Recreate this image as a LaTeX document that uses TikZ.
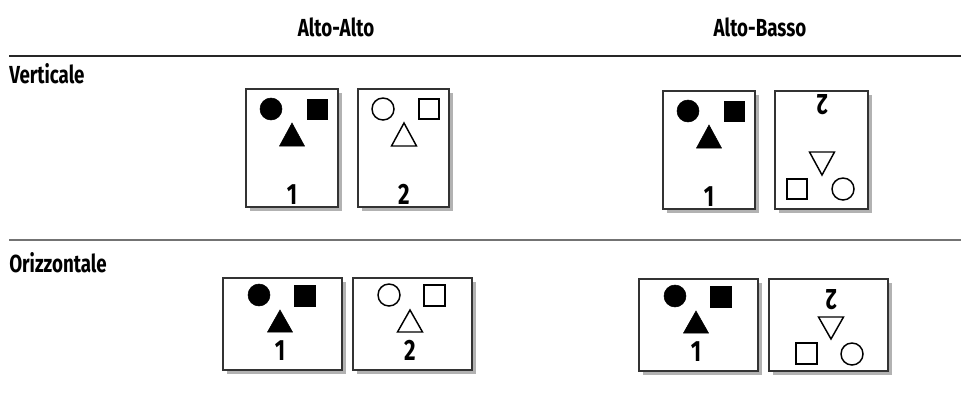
\documentclass[tikz,border=0pt]{standalone}
\usepackage{fontspec}
\setmainfont{Fira Sans}[FakeStretch=0.76]
\newcommand\vshapes[3]{%
  \draw[#1] (25,20) circle (11);
  \draw[#1] (61,10) rectangle (81,30);
  \draw[#1] (46,34) -- (58.5,57) -- (33.5,57) -- cycle;
  \node[digit] (#3) at (46,115) {#2};
}
\newcommand\hshapes[3]{%
  \draw[#1] (36,17) circle (11);
  \draw[#1] (71,7) rectangle (92,28);
  \draw[#1] (57,32) -- (69.5,54) -- (44.5,54) -- cycle;
  \node[digit] (#3) at (57,82) {#2};
}
\begin{document}
\begin{tikzpicture}[x=0.75pt,y=-0.75pt,
  pagebox/.style={draw=black!80,line width=0.9pt,fill=white},
  pageshadow/.style={fill=black!30},
  solidshape/.style={fill=black},
  openshape/.style={draw=black,line width=1.1pt,fill=white},
  digit/.style={font=\fontsize{22}{24}\selectfont\bfseries,inner sep=0pt,anchor=base,transform shape},
  rowlabel/.style={font=\fontsize{18.5}{20}\selectfont\bfseries,inner sep=0pt,anchor=base west},
  colhead/.style={font=\fontsize{18.5}{20}\selectfont\bfseries,inner sep=0pt,anchor=base}]
\useasboundingbox (0,0) rectangle (961,397);

% headers
\node[colhead] (hAA) at (336,36) {Alto-Alto};
\node[colhead] (hAB) at (760,36) {Alto-Basso};
\draw[line width=2.2pt,black!85] (9,56) -- (961,56);
\node[rowlabel] (rV) at (9,83) {Verticale};
\draw[line width=1.3pt,black!55] (9,240) -- (961,240);
\node[rowlabel] (rO) at (9,272) {Orizzontale};

% Verticale, Alto-Alto
\begin{scope}[shift={(246,89)}]
  \fill[pageshadow] (4,4) rectangle (96,122);
  \draw[pagebox] (0,0) rectangle (92,118);
  \vshapes{solidshape}{1}{vaa1}
\end{scope}
\begin{scope}[shift={(358,89)}]
  \fill[pageshadow] (4,4) rectangle (95,122);
  \draw[pagebox] (0,0) rectangle (91,118);
  \vshapes{openshape}{2}{vaa2}
\end{scope}

% Verticale, Alto-Basso
\begin{scope}[shift={(663,91)}]
  \fill[pageshadow] (4,4) rectangle (96,122);
  \draw[pagebox] (0,0) rectangle (92,118);
  \vshapes{solidshape}{1}{vab1}
\end{scope}
\begin{scope}[shift={(775,91)}]
  \fill[pageshadow] (4,4) rectangle (97,122);
  \draw[pagebox] (0,0) rectangle (93,118);
  \begin{scope}[rotate around={180:(46.5,59)}]
    \vshapes{openshape}{2}{vab2}
  \end{scope}
\end{scope}

% Orizzontale, Alto-Alto
\begin{scope}[shift={(223,278)}]
  \fill[pageshadow] (4,4) rectangle (123,96);
  \draw[pagebox] (0,0) rectangle (119,92);
  \hshapes{solidshape}{1}{oaa1}
\end{scope}
\begin{scope}[shift={(353,278)}]
  \fill[pageshadow] (4,4) rectangle (123,96);
  \draw[pagebox] (0,0) rectangle (119,92);
  \hshapes{openshape}{2}{oaa2}
\end{scope}

% Orizzontale, Alto-Basso
\begin{scope}[shift={(639,279)}]
  \fill[pageshadow] (4,4) rectangle (123,96);
  \draw[pagebox] (0,0) rectangle (119,92);
  \hshapes{solidshape}{1}{oab1}
\end{scope}
\begin{scope}[shift={(769,279)}]
  \fill[pageshadow] (4,4) rectangle (123,96);
  \draw[pagebox] (0,0) rectangle (119,92);
  \begin{scope}[rotate around={180:(59.5,46)}]
    \hshapes{openshape}{2}{oab2}
  \end{scope}
\end{scope}
\end{tikzpicture}
\end{document}
